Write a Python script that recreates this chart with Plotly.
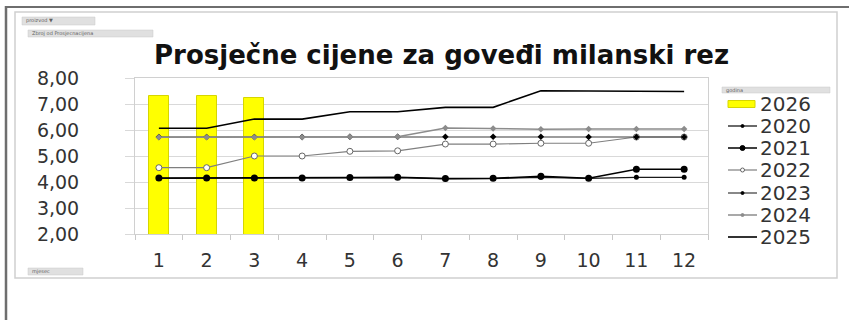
import plotly.graph_objects as go

# ---------------- data ----------------
months = [1, 2, 3, 4, 5, 6, 7, 8, 9, 10, 11, 12]
month_labels = ["1", "2", "3", "4", "5", "6", "7", "8", "9", "10", "11", "12"]
months_2026 = [1, 2, 3]
y2026 = [7.30, 7.30, 7.25]
y2020 = [4.14, 4.14, 4.14, 4.14, 4.16, 4.17, 4.12, 4.13, 4.18, 4.14, 4.18, 4.18]
y2021 = [4.15, 4.15, 4.15, 4.15, 4.17, 4.18, 4.13, 4.14, 4.22, 4.14, 4.49, 4.49]
y2022 = [4.55, 4.55, 5.00, 5.00, 5.18, 5.20, 5.46, 5.46, 5.49, 5.49, 5.73, 5.73]
y2023 = [5.73, 5.73, 5.73, 5.73, 5.74, 5.74, 5.74, 5.74, 5.74, 5.73, 5.73, 5.73]
y2024 = [5.72, 5.72, 5.72, 5.72, 5.74, 5.74, 6.08, 6.06, 6.03, 6.04, 6.04, 6.04]
y2025 = [6.07, 6.07, 6.42, 6.42, 6.70, 6.70, 6.87, 6.87, 7.51, 7.50, 7.49, 7.48]
y_ticks = [2, 3, 4, 5, 6, 7, 8]

title_text = "Prosječne cijene za goveđi milanski rez"

# ---------------- geometry ----------------
W, H = 849, 320
L, R, T, B = 135, 708, 78, 234   # plot area in pixels
PW, PH = R - L, B - T


def px(x):
    return (x - L) / PW


def py(y):
    return (B - y) / PH


FONT = "DejaVu Sans"

fig = go.Figure()

fig.add_trace(go.Bar(
    x=months_2026, y=y2026, name="2026", width=0.42,
    marker=dict(color="#FFFF00", line=dict(color="#D6D600", width=1)),
    showlegend=False,
))

series = [
    ("2020", y2020, dict(color="#1a1a1a", width=1.3), dict(symbol="circle", size=5, color="#000000")),
    ("2021", y2021, dict(color="#000000", width=1.5), dict(symbol="circle", size=7, color="#000000")),
    ("2022", y2022, dict(color="#7f7f7f", width=1.2), dict(symbol="circle", size=6, color="#ffffff",
                                                         line=dict(color="#666666", width=1))),
    ("2023", y2023, dict(color="#3a3a3a", width=1.2), dict(symbol="diamond", size=5, color="#000000")),
    ("2024", y2024, dict(color="#8c8c8c", width=1.5), dict(symbol="diamond", size=5, color="#8c8c8c")),
    ("2025", y2025, dict(color="#000000", width=1.6), None),
]

for name, ys, line, marker in series:
    if marker is None:
        fig.add_trace(go.Scatter(x=months, y=ys, name=name, mode="lines", line=line, showlegend=False))
    else:
        fig.add_trace(go.Scatter(x=months, y=ys, name=name, mode="lines+markers", line=line,
                                 marker=marker, showlegend=False))

shapes = []
annotations = []

# outer frame (dark left and top edges) and inner chart border
shapes.append(dict(type="line", xref="paper", yref="paper", x0=px(6), x1=px(6), y0=py(6), y1=py(320),
                   line=dict(color="#6e6e6e", width=2.5)))
shapes.append(dict(type="line", xref="paper", yref="paper", x0=px(5), x1=px(849), y0=py(7), y1=py(7),
                   line=dict(color="#6e6e6e", width=2)))
shapes.append(dict(type="rect", xref="paper", yref="paper", x0=px(15), x1=px(837), y0=py(12), y1=py(278),
                   line=dict(color="#d0d0d0", width=1.5), fillcolor="rgba(0,0,0,0)"))

# pivot field buttons
def button(x0, x1, y0, y1, text):
    shapes.append(dict(type="rect", xref="paper", yref="paper", x0=px(x0), x1=px(x1), y0=py(y0), y1=py(y1),
                       line=dict(color="#c8c8c8", width=0.5), fillcolor="#e0e0e0"))
    annotations.append(dict(xref="paper", yref="paper", x=px(x0 + 2), y=py((y0 + y1) / 2), text=text,
                            showarrow=False, xanchor="left", yanchor="middle",
                            font=dict(family=FONT, size=5, color="#606060")))

button(22, 95, 17, 25, "proizvod ▼")
button(28, 153, 30, 37, "Zbroj od Prosjecnacijena")
button(28, 83, 268, 275, "mjesec")
button(722, 830, 87, 93, "godina")

# title
annotations.append(dict(xref="paper", yref="paper", x=px(441), y=py(55), text="<b>" + title_text + "</b>",
                        showarrow=False, xanchor="center", yanchor="middle",
                        font=dict(family=FONT, size=26, color="#111111")))

# custom legend
leg_rows = [("2026", 104), ("2020", 126), ("2021", 148), ("2022", 170), ("2023", 193), ("2024", 215), ("2025", 237)]
for (name, yy) in leg_rows:
    if name == "2026":
        shapes.append(dict(type="rect", xref="paper", yref="paper", x0=px(728), x1=px(755),
                           y0=py(yy - 3.5), y1=py(yy + 3.5), fillcolor="#FFFF00",
                           line=dict(color="#D6D600", width=1)))
    else:
        line, marker = [(s[2], s[3]) for s in series if s[0] == name][0]
        shapes.append(dict(type="line", xref="paper", yref="paper", x0=px(728), x1=px(757),
                           y0=py(yy), y1=py(yy), line=dict(color=line["color"], width=line["width"])))
        if marker is not None:
            r = marker["size"] / 2.0 - 1
            mline = marker.get("line", dict(color=marker["color"], width=1))
            shapes.append(dict(type="circle", xref="paper", yref="paper", x0=px(742.5 - r), x1=px(742.5 + r),
                               y0=py(yy - r), y1=py(yy + r), fillcolor=marker["color"],
                               line=dict(color=mline["color"], width=1)))
    annotations.append(dict(xref="paper", yref="paper", x=px(758), y=py(yy), text=name, showarrow=False,
                            xanchor="left", yanchor="middle", font=dict(family=FONT, size=20, color="#333333")))

fig.update_layout(
    width=W, height=H,
    margin=dict(l=L, r=W - R, t=T, b=H - B, pad=0),
    paper_bgcolor="#ffffff", plot_bgcolor="#ffffff",
    separators=", ",
    showlegend=False,
    bargap=0,
    shapes=shapes,
    annotations=annotations,
    font=dict(family=FONT, color="#404040"),
)

fig.update_xaxes(
    range=[0.5, 12.5], tickmode="array", tickvals=months, ticktext=month_labels,
    ticks="", showgrid=False, showline=True, linecolor="#d0d0d0", linewidth=1, mirror=True,
    tickfont=dict(family=FONT, size=19, color="#333333"), ticklabelstandoff=9,
    minor=dict(tickmode="array", tickvals=[i + 0.5 for i in range(0, 13)], ticks="outside",
               ticklen=5, tickcolor="#c8c8c8", tickwidth=1, showgrid=False),
    zeroline=False, fixedrange=True,
)
fig.update_yaxes(
    range=[2, 8], tickmode="array", tickvals=y_ticks, tickformat=".2f",
    ticks="outside", ticklen=9, tickcolor="#d9d9d9",
    showgrid=True, gridcolor="#d9d9d9", gridwidth=1,
    showline=True, linecolor="#d0d0d0", linewidth=1, mirror=True,
    tickfont=dict(family=FONT, size=19, color="#333333"), ticklabelstandoff=42,
    zeroline=False, fixedrange=True,
)

fig.write_html("out.html", config={"displayModeBar": False},
               post_script="document.body.style.margin='0px';")
